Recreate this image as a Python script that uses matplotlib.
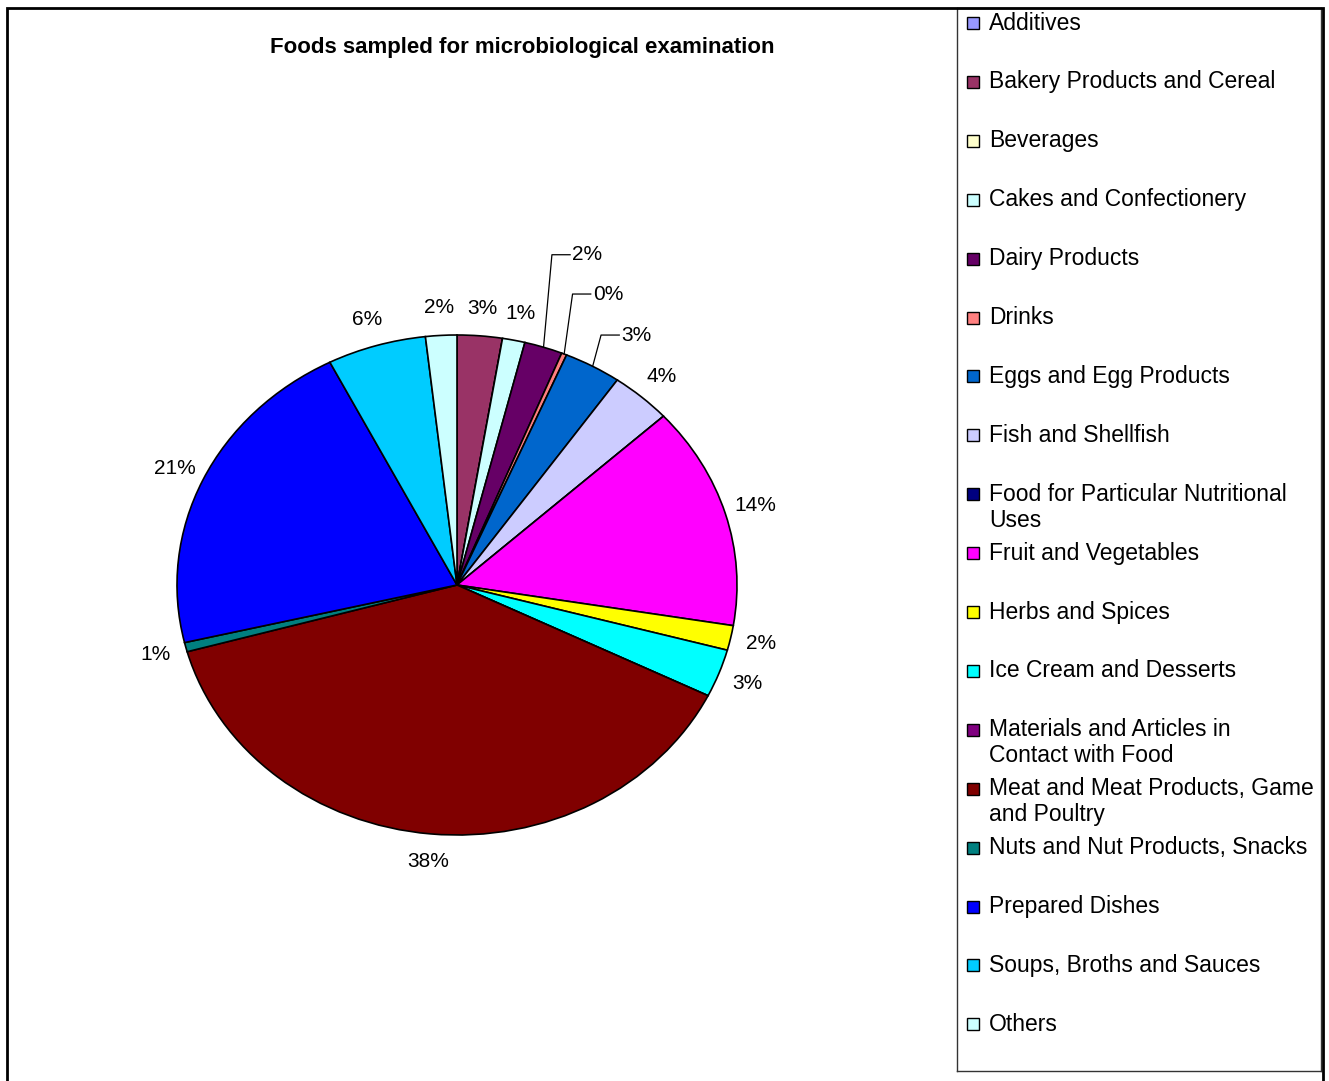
import matplotlib
matplotlib.use("Agg")
import matplotlib.pyplot as plt
import numpy as np
from matplotlib.patches import Rectangle

plt.rcParams["font.family"] = ["Liberation Sans", "DejaVu Sans"]

# share of samples (%) per food category, clockwise from 12 o'clock
categories = [
    "Additives",
    "Bakery Products and Cereal",
    "Beverages",
    "Cakes and Confectionery",
    "Dairy Products",
    "Drinks",
    "Eggs and Egg Products",
    "Fish and Shellfish",
    "Food for Particular Nutritional\nUses",
    "Fruit and Vegetables",
    "Herbs and Spices",
    "Ice Cream and Desserts",
    "Materials and Articles in\nContact with Food",
    "Meat and Meat Products, Game\nand Poultry",
    "Nuts and Nut Products, Snacks",
    "Prepared Dishes",
    "Soups, Broths and Sauces",
    "Others",
]
shares = [0.0, 2.6, 0.0, 1.3, 2.2, 0.3, 3.3, 3.5, 0.0, 14.4,
          1.6, 3.1, 0.0, 38.4, 0.6, 21.2, 5.7, 1.8]
colors = ["#9999FF", "#993366", "#FFFFCC", "#CCFFFF", "#660066", "#FF8080",
          "#0066CC", "#CCCCFF", "#000080", "#FF00FF", "#FFFF00", "#00FFFF",
          "#800080", "#800000", "#008080", "#0000FF", "#00CCFF", "#CCFFFF"]

# labels pulled out with a leader line: vertical rise above the rim
leader_rise = {4: 0.37, 5: 0.24, 6: 0.125}

W, H = 1329, 1081
fig = plt.figure(figsize=(W / 100, H / 100), dpi=100)

# pie axes: centre (457, 585) px, radii 280 x 250 px, limits +-1.6
cx, cy, rx, ry, lim = 457, 585, 280, 250, 1.6
ax = fig.add_axes([(cx - rx * lim) / W, (H - cy - ry * lim) / H,
                   2 * rx * lim / W, 2 * ry * lim / H])


def pct_label(p):
    return f"{p:.0f}%" if p > 0 else ""


wedges, _, autotexts = ax.pie(
    shares, colors=colors, startangle=90, counterclock=False,
    autopct=pct_label, pctdistance=1.11,
    wedgeprops=dict(edgecolor="black", linewidth=1.2),
    textprops=dict(fontsize=15, color="black"),
)
ax.set_aspect("auto")
ax.set_xlim(-lim, lim)
ax.set_ylim(-lim, lim)
ax.axis("off")

for i, rise in leader_rise.items():
    w = wedges[i]
    ang = np.deg2rad((w.theta1 + w.theta2) / 2)
    x0, y0 = np.cos(ang), np.sin(ang)
    xe, ye = x0 + 0.03, y0 + rise
    ax.plot([x0, xe, xe + 0.065], [y0, ye, ye], color="black", lw=0.9)
    autotexts[i].set_position((xe + 0.072, ye))
    autotexts[i].set_ha("left")

fig.text(522 / W, 1 - 48 / H, "Foods sampled for microbiological examination",
         ha="center", va="center", fontsize=16, fontweight="bold")

# legend drawn in a pixel-coordinate axes
lx0, lx1, ly0, ly1 = 957, 1321, 8, 1071
lax = fig.add_axes([lx0 / W, (H - ly1) / H, (lx1 - lx0) / W, (ly1 - ly0) / H])
lax.set_xlim(lx0, lx1)
lax.set_ylim(ly1, ly0)
lax.set_xticks([])
lax.set_yticks([])
for s in lax.spines.values():
    s.set_linewidth(1.0)
    s.set_color("#333333")

slot0, slot_step, line_gap = 23, 58.9, 26
for k, (name, col) in enumerate(zip(categories, colors)):
    y = slot0 + k * slot_step
    lax.add_patch(Rectangle((967, y - 6), 12, 12, facecolor=col,
                            edgecolor="black", linewidth=1.0))
    for j, line in enumerate(name.split("\n")):
        lax.text(989, y + j * line_gap, line, ha="left", va="center",
                 fontsize=16.5)

# outer chart border (bottom edge falls outside the picture)
fig.add_artist(Rectangle((7 / W, -0.05), (1323 - 7) / W, (H - 8) / H + 0.05,
                         transform=fig.transFigure, fill=False,
                         edgecolor="black", linewidth=2))

fig.savefig("out.png", dpi=100)
